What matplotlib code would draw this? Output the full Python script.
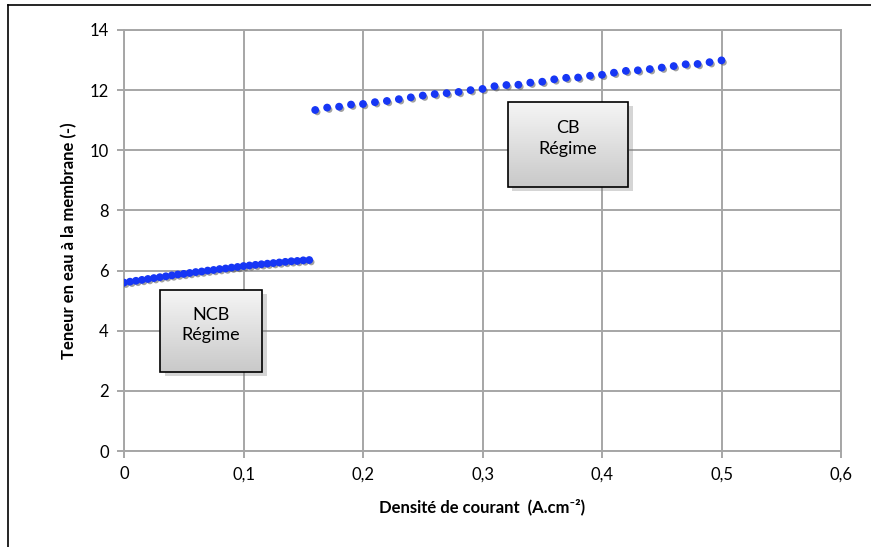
import numpy as np
import matplotlib
matplotlib.use('Agg')
from matplotlib import pyplot as plt
from matplotlib.patches import Rectangle
from matplotlib.lines import Line2D
from matplotlib.colors import LinearSegmentedColormap
import matplotlib.patheffects as pe

# Non-CB regime (low current density)
ncb_x = [0.000, 0.005, 0.010, 0.015, 0.020, 0.025, 0.030, 0.035, 0.040, 0.045,
         0.050, 0.055, 0.060, 0.065, 0.070, 0.075, 0.080, 0.085, 0.090, 0.095,
         0.100, 0.105, 0.110, 0.115, 0.120, 0.125, 0.130, 0.135, 0.140, 0.145,
         0.150, 0.155]
ncb_y = [5.60, 5.63, 5.66, 5.69, 5.72, 5.75, 5.78, 5.81, 5.84, 5.87,
         5.89, 5.92, 5.95, 5.97, 6.00, 6.02, 6.05, 6.07, 6.10, 6.12,
         6.15, 6.17, 6.19, 6.21, 6.23, 6.25, 6.27, 6.29, 6.31, 6.32,
         6.34, 6.35]

# CB regime
cb_x = [0.16, 0.17, 0.18, 0.19, 0.20, 0.21, 0.22, 0.23, 0.24, 0.25,
        0.26, 0.27, 0.28, 0.29, 0.30, 0.31, 0.32, 0.33, 0.34, 0.35,
        0.36, 0.37, 0.38, 0.39, 0.40, 0.41, 0.42, 0.43, 0.44, 0.45,
        0.46, 0.47, 0.48, 0.49, 0.50]
cb_y = [11.34, 11.42, 11.45, 11.52, 11.54, 11.60, 11.64, 11.70, 11.76, 11.82,
        11.87, 11.90, 11.94, 12.00, 12.04, 12.13, 12.17, 12.18, 12.25, 12.28,
        12.36, 12.41, 12.42, 12.48, 12.51, 12.58, 12.64, 12.66, 12.70, 12.75,
        12.80, 12.86, 12.87, 12.93, 12.99]

x_ticks = [0, 0.1, 0.2, 0.3, 0.4, 0.5, 0.6]
x_ticklabels = ['0', '0,1', '0,2', '0,3', '0,4', '0,5', '0,6']
y_ticks = [0, 2, 4, 6, 8, 10, 12, 14]

plt.rcParams['font.family'] = ['Lato', 'DejaVu Sans']

fig = plt.figure(figsize=(8.71, 5.47), dpi=100)
ax = fig.add_axes([124 / 871, 1 - 451 / 547, (841 - 124) / 871, (451 - 30) / 547])

grid_col = '#a6a6a6'
ax.set_xticks(x_ticks)
ax.set_xticklabels(x_ticklabels)
ax.set_yticks(y_ticks)
ax.grid(True, color=grid_col, linewidth=1.4)
ax.set_axisbelow(True)
for s in ax.spines.values():
    s.set_color(grid_col)
    s.set_linewidth(1.4)
ax.tick_params(direction='out', length=5, width=1.4, color=grid_col,
               labelsize=12, pad=6)

shadow = [pe.SimplePatchShadow(offset=(1.5, -1.5), shadow_rgbFace='#555555', alpha=0.55),
          pe.Normal()]
for xs, ys in [(ncb_x, ncb_y), (cb_x, cb_y)]:
    ax.plot(xs, ys, linestyle='none', marker='o', markersize=4.6,
            markerfacecolor='#1636f5', markeredgecolor='#1636f5',
            path_effects=shadow, zorder=3)

ax.set_xlabel('Densité de courant  (A.cm⁻²)', fontsize=12, fontweight='bold', labelpad=12)
ax.set_ylabel('Teneur en eau à la membrane (-)', fontsize=12, fontweight='bold', labelpad=9)

# gradient annotation boxes
grad = np.linspace(0, 1, 100).reshape(-1, 1)
gcmap = LinearSegmentedColormap.from_list('g', ['#f5f5f5', '#c9c9c9'])


def gradient_box(x0, x1, y0, y1, label):
    dx = 0.004
    dy = 0.12
    ax.add_patch(Rectangle((x0 + dx, y0 - dy), x1 - x0, y1 - y0, facecolor='#777777',
                           alpha=0.3, edgecolor='none', zorder=4))
    ax.imshow(grad, cmap=gcmap, extent=(x0, x1, y0, y1), aspect='auto',
              origin='upper', zorder=5)
    ax.add_patch(Rectangle((x0, y0), x1 - x0, y1 - y0, facecolor='none',
                           edgecolor='black', linewidth=1.2, zorder=6))
    ax.text((x0 + x1) / 2, (y0 + y1) / 2 + 0.2, label, ha='center', va='center',
            fontsize=13, linespacing=1.35, zorder=7)


gradient_box(0.030, 0.1155, 2.63, 5.35, 'NCB\nRégime')
gradient_box(0.321, 0.422, 8.78, 11.6, 'CB\nRégime')
ax.set_xlim(0, 0.6)
ax.set_ylim(0, 14)

# outer chart frame (left and top edges)
fig.add_artist(Line2D([8 / 871, 8 / 871], [0, 1 - 5 / 547], color='black', linewidth=1.2))
fig.add_artist(Line2D([8 / 871, 1], [1 - 5 / 547, 1 - 5 / 547], color='black', linewidth=1.2))

fig.savefig('out.png', dpi=100)
